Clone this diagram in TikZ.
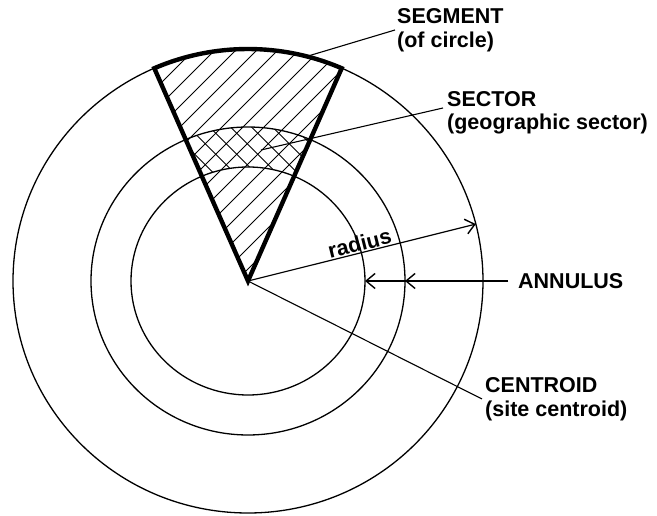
\documentclass[tikz,border=0pt]{standalone}
\usepackage{fontspec}
\setmainfont{Liberation Sans}
\usetikzlibrary{arrows.meta,calc}
\begin{document}
\begin{tikzpicture}[x=1pt,y=1pt,
 ring/.style={line width=1.3pt},
 hatch/.style={line width=1pt},
 thickedge/.style={line width=4.4pt, line join=miter},
 leader/.style={line width=1.1pt},
 lbl/.style={font=\bfseries\fontsize{21.5}{23.5}\selectfont, align=left, inner sep=2pt},
 arr/.style={line width=1.2pt, -{Straight Barb[length=9pt,width=15pt,line width=1.4pt]}}
]
\useasboundingbox (0,0) rectangle (657,516);
\coordinate (C) at (248,235);
% circles
\draw[ring] (C) ellipse [x radius=235pt, y radius=232pt];
\draw[ring] (C) ellipse [x radius=157pt, y radius=154pt];
\draw[ring] (C) ellipse [x radius=117pt, y radius=114pt];
% key points
\coordinate (L) at ($(C)+(113.5:235pt and 232pt)$);
\coordinate (segpt) at ($(C)+(75.5:235pt and 232pt)$);
\coordinate (radpt) at ($(C)+(14.2:235pt and 232pt)$);
\coordinate (annmid) at ($(C)+(0:157pt and 154pt)$);
\coordinate (anninn) at ($(C)+(0:117pt and 114pt)$);
\coordinate (sectpt) at (261,366);
% single hatching in the sector
\begin{scope}
\clip (C) -- (L) arc[start angle=113.5,end angle=66.5,x radius=235pt,y radius=232pt] -- cycle;
\foreach \k in {-6,...,17} \draw[hatch] ({1-21*\k},0) -- ({1-21*\k+516},516);
\end{scope}
% cross hatching in the annular part of the sector
\begin{scope}
\clip ($(C)+(113.5:157pt and 154pt)$) arc[start angle=113.5,end angle=66.5,x radius=157pt,y radius=154pt]
 -- ($(C)+(66.5:117pt and 114pt)$) arc[start angle=66.5,end angle=113.5,x radius=117pt,y radius=114pt] -- cycle;
\foreach \m in {-12,...,22} \draw[hatch] ({493.5+21*\m},0) -- ({493.5+21*\m-516},516);
\end{scope}
% thick sector outline
\draw[thickedge] (C) -- (L) arc[start angle=113.5,end angle=66.5,x radius=235pt,y radius=232pt] -- cycle;
% radius
\draw[arr] (C) -- (radpt) node[pos=0.5, sloped, above, lbl, inner sep=1pt] (rad) {radius};
% labels
\node[lbl, anchor=west, inner xsep=10pt] (ann) at (508,235) {ANNULUS};
\draw[arr] (ann.west) -- (anninn);
\draw[arr] (ann.west) -- (annmid);
\node[lbl, anchor=west] (seg) at (395,486) {SEGMENT\\(of circle)};
\draw[leader] (seg.west) -- (segpt);
\node[lbl, anchor=west, inner xsep=4pt] (sec) at (443,403) {SECTOR\\(geographic sector)};
\draw[leader] ([yshift=5pt]sec.west) -- (sectpt);
\node[lbl, anchor=west, inner xsep=3pt] (cen) at (482,117) {CENTROID\\(site centroid)};
\draw[leader] (C) -- (cen.west);
\end{tikzpicture}
\end{document}
